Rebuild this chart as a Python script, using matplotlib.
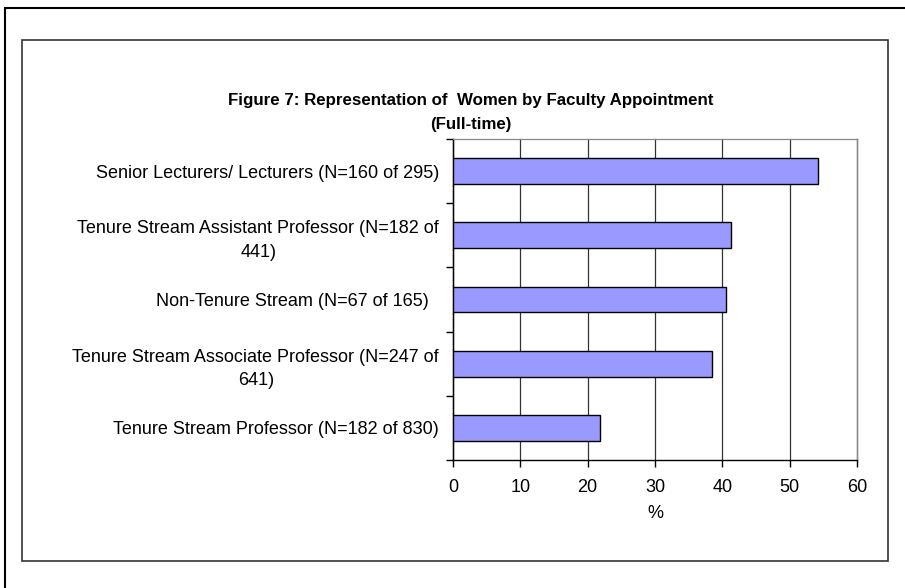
import matplotlib
matplotlib.use("Agg")
import matplotlib.pyplot as plt
from matplotlib.patches import Rectangle
from matplotlib.ticker import FixedLocator, NullFormatter

plt.rcParams["font.family"] = ["Liberation Sans", "DejaVu Sans"]

# datos (de abajo hacia arriba, como en la figura)
categorias = [
    "Tenure Stream Professor (N=182 of 830)",
    "Tenure Stream Associate Professor (N=247 of\n641)",
    "Non-Tenure Stream (N=67 of 165)  ",
    "Tenure Stream Assistant Professor (N=182 of\n441)",
    "Senior Lecturers/ Lecturers (N=160 of 295)",
]
porcentajes = [21.9, 38.5, 40.6, 41.3, 54.2]
xticks = [0, 10, 20, 30, 40, 50, 60]

W, H = 905, 588
fig = plt.figure(figsize=(W / 100, H / 100), dpi=100)

# marco exterior (solo izquierda y arriba visibles) y marco del grafico
fig.add_artist(Rectangle((5 / W, -0.1), 1.2, 1.1 - 8 / H, transform=fig.transFigure,
                         fill=False, edgecolor="black", linewidth=1.5))
fig.add_artist(Rectangle((22 / W, 1 - 561 / H), (888 - 22) / W, (561 - 40) / H,
                         transform=fig.transFigure, fill=False, edgecolor="#333333", linewidth=1.2))

ax = fig.add_axes([453 / W, 1 - 460 / H, (857 - 453) / W, (460 - 139) / H])
y = list(range(len(categorias)))
ax.barh(y, porcentajes, height=0.4, color="#9999FF", edgecolor="black", linewidth=1.0, zorder=3)

ax.set_xlim(0, 60)
ax.set_ylim(-0.5, len(categorias) - 0.5)
ax.set_xticks(xticks)
ax.set_xticklabels([str(t) for t in xticks], fontsize=13)
ax.xaxis.grid(True, color="#333333", linewidth=0.9, zorder=0)
for linea in ax.get_xgridlines():
    linea.set_clip_on(False)

ax.set_yticks(y)
ax.set_yticklabels(categorias, fontsize=13, multialignment="center", linespacing=1.5)
ax.tick_params(axis="y", length=0, pad=10)
ax.yaxis.set_minor_locator(FixedLocator([i - 0.5 for i in range(len(categorias) + 1)]))
ax.yaxis.set_minor_formatter(NullFormatter())
ax.tick_params(axis="y", which="minor", length=5, width=1, direction="out")
ax.tick_params(axis="x", length=5, width=1, direction="out", pad=9)

for side in ["top", "right"]:
    ax.spines[side].set_color("#888888")
    ax.spines[side].set_linewidth(0.9)
ax.spines["left"].set_linewidth(1.0)
ax.spines["bottom"].set_linewidth(1.0)

ax.set_xlabel("%", fontsize=13, labelpad=6)

fig.text(471 / W, 1 - 101 / H, "Figure 7: Representation of  Women by Faculty Appointment",
         ha="center", va="center", fontsize=12.2, fontweight="bold")
fig.text(471 / W, 1 - 124 / H, "(Full-time)",
         ha="center", va="center", fontsize=12.2, fontweight="bold")

fig.savefig("out.png", dpi=100)
